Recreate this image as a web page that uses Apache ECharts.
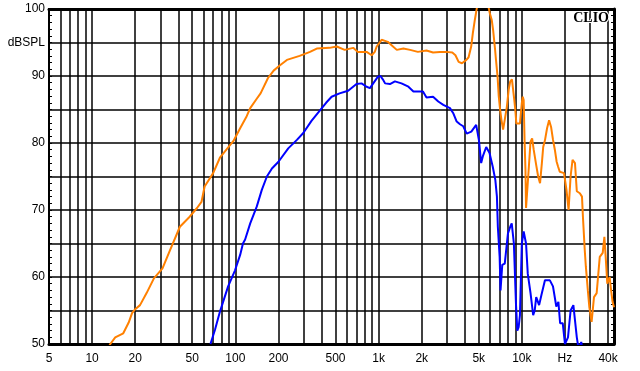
<!DOCTYPE html>
<html>
<head>
<meta charset="utf-8">
<script src="https://cdn.jsdelivr.net/npm/echarts@6/dist/echarts.min.js"></script>
<style>html,body{margin:0;padding:0;background:#fff}#c{width:640px;height:371px}</style>
</head>
<body>
<div id="c"></div>
<script>
// Orange curve (frequency Hz, level dBSPL)
const orangeFreq = [13,13.4,14.5,16.5,18,19,20,21.6,24,27,31,35,41,48,54,58,61,70,78,88,97,108,120,127,141,150,169,185,205,229,281,332,370,455,510,580,665,714,825,895,940,970,1050,1160,1232,1340,1490,1660,1880,2160,2400,2680,2960,3270,3440,3620,3820,4100,4250,4430,4550,4700,4830,5000,5300,5600,5900,5970,6160,6300,6500,6600,6770,6900,7050,7200,7400,7600,7860,8100,8300,8530,8700,8860,9000,9160,9300,9700,10000,10150,10300,10450,10600,10700,11000,11200,11500,11800,12100,12600,13000,13400,13800,14100,14500,15000,15500,16000,16500,17000,17500,17900,18400,19000,19700,20500,21200,21900,22600,23500,24200,25400,26300,26700,27500,28000,28900,29600,30700,31900,33300,35000,36700,37700,38500,39500,41000,42000,43000,44000];
const orangeSpl  = [49.5,50,51,51.6,53.2,54.6,55.2,55.8,57.6,59.8,61.3,64,67.5,69,70.3,71.2,73.5,75.5,77.8,79.2,80.3,82.2,84,85.2,86.6,87.4,89.7,90.8,91.6,92.4,93,93.6,94.1,94.2,94.4,93.9,94.2,93.6,93.6,93.1,93.6,94.4,95.4,95.1,94.6,93.9,94.1,93.9,93.6,93.8,93.5,93.6,93.6,93.5,93.1,92.1,91.9,92.4,92.8,94.4,96.4,98.4,99.9,101.5,102.5,101.5,100,99.4,98.4,96.9,94,92.4,89.9,87,85,83.5,82,83.5,85.4,88,89.2,89.5,89.4,86.4,85,82.9,82.7,82.9,86,86.9,86.4,80.4,76,70.3,70.3,76.5,80.2,80.7,79,76.7,75,74,77,79.4,80.4,82.2,83.4,82.4,80.5,79,77.2,76.5,75.7,75.6,75.5,73,70,75,77.5,77,72.8,72.5,72,69,64,61.5,58,55.5,53.3,57,57.6,63,63.6,66,63,59,60,58,56.3,55.5];
// Blue curve
const blueFreq = [67,72,78,89,99.5,108,113,117,127,141,153,166,180,200,234,270,298,340,391,430,470,534,613,701,760,825,870,917,990,1030,1070,1110,1200,1300,1445,1615,1750,1880,2040,2160,2400,2610,2830,3150,3330,3510,3700,3900,4120,4440,4800,5020,5200,5340,5640,5950,6100,6260,6530,6700,6800,7000,7100,7300,7600,8000,8300,8500,8800,9100,9300,9500,9700,10000,10300,10700,11000,11500,12000,12300,12600,13200,13700,14500,15700,16500,17400,18000,18500,19300,20000,21000,21900,22900,23500,24200,24800,25500,26000,26500,27000];
const blueSpl  = [50,52.1,54.8,58.6,61,63.3,65,65.6,68,70.5,73,75,76.2,77.2,79.2,80.5,81.5,83.3,84.9,86,86.9,87.4,87.8,88.8,88.9,88.4,88.2,88.9,89.9,90,89.5,88.9,88.8,89.2,88.9,88.4,87.7,87.7,87.7,86.8,86.9,86.2,85.7,85.2,84.4,83.2,82.8,82.5,81.4,81.7,82.7,80.4,77,78,79.4,78.5,77.5,76.5,74.5,72,67.5,63,58,61.8,62,66.5,67.5,68,65,56,52,52.5,54.3,65,66.8,65,60.5,57.6,54.3,55,57,55.8,57.3,59.5,59.5,58.6,55.6,56.3,53.1,53.1,50,51,55,55.8,55.6,51,49.5,49.8,50.3,49,48];
// Axis ticks
const xGridValues = [5,6,7,8,9,10,20,30,40,50,60,70,80,90,100,200,300,400,500,600,700,800,900,1000,2000,3000,4000,5000,6000,7000,8000,9000,10000,20000,30000,40000];
const xLabelValues = [5,10,20,50,100,200,500,1000,2000,5000,10000,20000,40000];
const xLabelTexts = ['5','10','20','50','100','200','500','1k','2k','5k','10k','Hz','40k'];
const yLabelValues = [100,95,90,80,70,60,50];
const yLabelTexts = ['100','dBSPL','90','80','70','60','50'];

const pair = (f, s) => f.map((v, i) => [v, s[i]]);
const font = 'Liberation Sans, Arial, sans-serif';

const chart = echarts.init(document.getElementById('c'), null, {renderer: 'canvas'});
chart.setOption({
  animation: false,
  backgroundColor: '#fff',
  grid: {left: 49, right: 26, top: 9, bottom: 27, show: true, borderColor: '#000', borderWidth: 2, backgroundColor: 'transparent'},
  xAxis: [{
    type: 'log', logBase: 10, min: 5, max: 44000,
    axisLine: {show: true, lineStyle: {color: '#000', width: 3}},
    axisTick: {show: false, customValues: xGridValues},
    axisLabel: {
      customValues: xLabelValues, margin: 9, color: '#000', fontFamily: font, fontSize: 12,
      formatter: v => { const i = xLabelValues.indexOf(Number(v)); return i >= 0 ? xLabelTexts[i] : ''; }
    },
    splitLine: {show: true, lineStyle: {color: '#000', width: 1.5}},
    minorTick: {show: false}
  }, {
    type: 'log', logBase: 10, min: 5, max: 44000, position: 'top',
    axisLine: {show: true, lineStyle: {color: '#000', width: 3}},
    axisTick: {show: false}, axisLabel: {show: false}, splitLine: {show: false}
  }],
  yAxis: [{
    type: 'value', min: 50, max: 100, interval: 5,
    axisLine: {show: true, lineStyle: {color: '#000', width: 2}},
    axisTick: {show: true, inside: true, length: 3, lineStyle: {color: '#000'}},
    minorTick: {show: true, splitNumber: 5, length: 3, lineStyle: {color: '#000'}},
    axisLabel: {
      margin: 4, color: '#000', fontFamily: font, fontSize: 12,
      formatter: v => { const i = yLabelValues.indexOf(v); return i >= 0 ? yLabelTexts[i] : ''; }
    },
    splitLine: {show: true, lineStyle: {color: '#000', width: 1.5}}
  }, {
    type: 'value', min: 50, max: 100, interval: 5, position: 'right',
    axisLine: {show: true, lineStyle: {color: '#000', width: 3}},
    axisTick: {show: true, inside: true, length: 3, lineStyle: {color: '#000'}},
    minorTick: {show: true, splitNumber: 5, length: 3, lineStyle: {color: '#000'}},
    axisLabel: {show: false}, splitLine: {show: false}
  }],
  graphic: [{
    type: 'text', right: 30, top: 10, z: 100,
    style: {text: 'CLIO', font: 'bold 14px "Liberation Serif", "DejaVu Serif", serif', fill: '#000', stroke: '#fff', lineWidth: 2}
  }],
  series: [{
    type: 'line', data: pair(orangeFreq, orangeSpl), showSymbol: false, symbol: 'none', clip: true,
    lineStyle: {color: '#ff8000', width: 2}, z: 3
  }, {
    type: 'line', data: pair(blueFreq, blueSpl), showSymbol: false, symbol: 'none', clip: true,
    lineStyle: {color: '#0000ff', width: 2}, z: 4
  }]
});
</script>
</body>
</html>
